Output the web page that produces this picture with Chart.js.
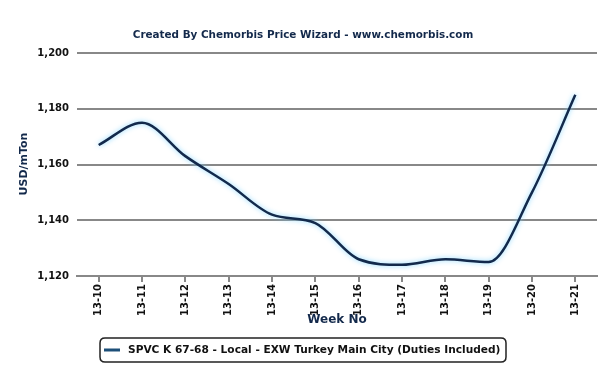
<!DOCTYPE html>
<html><head><meta charset="utf-8">
<script src="https://cdn.jsdelivr.net/npm/chart.js@4/dist/chart.umd.min.js"></script>
<style>html,body{margin:0;padding:0;background:#fff}#wrap{width:609px;height:378px}</style>
</head><body><div id="wrap"><canvas id="c" width="609" height="378"></canvas></div>
<script>
const chartTitle = "Created By Chemorbis Price Wizard - www.chemorbis.com";
const yTitle = "USD/mTon";
const xTitle = "Week No";
const seriesLabel = "SPVC K 67-68 - Local - EXW Turkey Main City (Duties Included)";
const weeks = ["13-10","13-11","13-12","13-13","13-14","13-15","13-16","13-17","13-18","13-19","13-20","13-21"];
const prices = [1167,1175,1163,1153,1142,1139,1126,1124,1126,1125,1150,1185];
const yMin = 1120, yMax = 1200, yStep = 20;

const FONT = "'DejaVu Sans', Verdana, sans-serif";
const NAVY = '#13294b';

const decor = {
  id:'decor',
  beforeDatasetDraw(chart){
    const ctx = chart.ctx; ctx.save();
    ctx.shadowColor = 'rgba(120,210,255,0.9)'; ctx.shadowBlur = 5;
  },
  afterDatasetDraw(chart){ chart.ctx.restore(); },
  afterDraw(chart){
    const ctx = chart.ctx, a = chart.chartArea;
    ctx.save();
    ctx.fillStyle = NAVY; ctx.textAlign='center'; ctx.textBaseline='middle';
    ctx.font = "bold 10.4px " + FONT;
    ctx.fillText(chartTitle, 303, 35);
    ctx.font = "bold 12px " + FONT;
    ctx.fillText(xTitle, (a.left+a.right)/2, 320);
    ctx.save(); ctx.translate(24, 164); ctx.rotate(-Math.PI/2);
    ctx.font = "bold 11px " + FONT; ctx.fillText(yTitle, 0, 0); ctx.restore();
    // legend box
    const bx=100, by=338, bw=406, bh=24, r=5;
    ctx.beginPath();
    ctx.moveTo(bx+r,by); ctx.lineTo(bx+bw-r,by); ctx.quadraticCurveTo(bx+bw,by,bx+bw,by+r);
    ctx.lineTo(bx+bw,by+bh-r); ctx.quadraticCurveTo(bx+bw,by+bh,bx+bw-r,by+bh);
    ctx.lineTo(bx+r,by+bh); ctx.quadraticCurveTo(bx,by+bh,bx,by+bh-r);
    ctx.lineTo(bx,by+r); ctx.quadraticCurveTo(bx,by,bx+r,by); ctx.closePath();
    ctx.lineWidth=1.5; ctx.strokeStyle='#222'; ctx.stroke();
    ctx.beginPath(); ctx.moveTo(104,350); ctx.lineTo(120,350);
    ctx.lineWidth=3; ctx.strokeStyle='#1d4f78'; ctx.stroke();
    ctx.textAlign='left'; ctx.fillStyle='#111';
    ctx.font = "bold 10.6px " + FONT;
    ctx.fillText(seriesLabel, 128, 350);
    ctx.restore();
  }
};

new Chart(document.getElementById('c'), {
  type:'line',
  data:{ labels: weeks, datasets:[{ label: seriesLabel, data: prices,
    borderColor: NAVY, borderWidth: 2.5, pointRadius:0, cubicInterpolationMode:'monotone', fill:false }]},
  options:{
    responsive:false, animation:false,
    layout:{ padding:{ left:0, right:12, top:53, bottom:52 } },
    plugins:{ legend:{display:false}, title:{display:false}, tooltip:{enabled:false} },
    scales:{
      x:{ offset:true,
        grid:{ drawOnChartArea:false, drawTicks:true, tickLength:6, color:'#888', lineWidth:2 },
        border:{ display:true, color:'#888', width:2 },
        ticks:{ minRotation:90, maxRotation:90, autoSkip:false, color:'#111', padding:2,
          font:{ family:FONT, size:10, weight:'bold' } },
        afterFit(s){ s.height = 50; }
      },
      y:{ min:yMin, max:yMax,
        grid:{ color:'#888', lineWidth:2, drawTicks:false },
        border:{ display:false },
        ticks:{ stepSize:yStep, padding:8, color:'#111',
          font:{ family:FONT, size:10, weight:'bold' },
          callback:v=>v.toLocaleString('en-US') },
        afterFit(s){ s.width = 77; }
      }
    }
  },
  plugins:[decor]
});
</script></body></html>
